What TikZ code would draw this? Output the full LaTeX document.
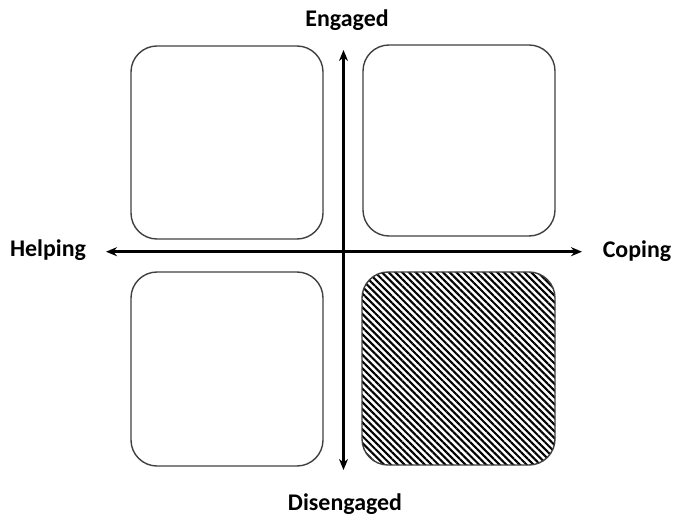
\documentclass[tikz,border=0pt]{standalone}
\usepackage{fontspec}
\setmainfont{Carlito}
\usetikzlibrary{arrows.meta,patterns.meta}
\definecolor{boxline}{HTML}{404040}
\tikzset{
  quad/.style={draw=boxline, line width=1.4bp, rounded corners=26bp, minimum width=192bp, minimum height=192bp, inner sep=0pt},
  hatched/.style={quad, pattern={Lines[angle=-45,distance=4.8bp,line width=2.1bp]}},
  axis/.style={line width=2.6bp, {Stealth[length=11bp,width=9bp]}-{Stealth[length=11bp,width=9bp]}},
  lbl/.style={font=\bfseries\fontsize{24}{28}\selectfont, inner sep=0pt, anchor=base}
}
\begin{document}
\begin{tikzpicture}[x=1bp,y=-1bp]
\useasboundingbox (0,0) rectangle (673,515);
\node[quad, minimum height=193bp] (tl) at (227,142.5) {};
\node[quad, minimum height=191bp] (tr) at (459,140.5) {};
\node[quad, minimum height=194bp] (bl) at (227,369) {};
\node[hatched, minimum width=193bp, minimum height=193bp] (br) at (458.5,368.5) {};
\coordinate (vtop) at (343.5,50);
\coordinate (vbot) at (343.5,470);
\coordinate (hleft) at (106,251.7);
\coordinate (hright) at (582,251.7);
\draw[axis] (vbot) -- (vtop);
\draw[axis] (hleft) -- (hright);
\node[lbl] (eng) at (347,27) {Engaged};
\node[lbl] (dis) at (345,510) {Disengaged};
\node[lbl] (help) at (48,257) {Helping};
\node[lbl] (cop) at (637,258) {Coping};
\end{tikzpicture}
\end{document}
